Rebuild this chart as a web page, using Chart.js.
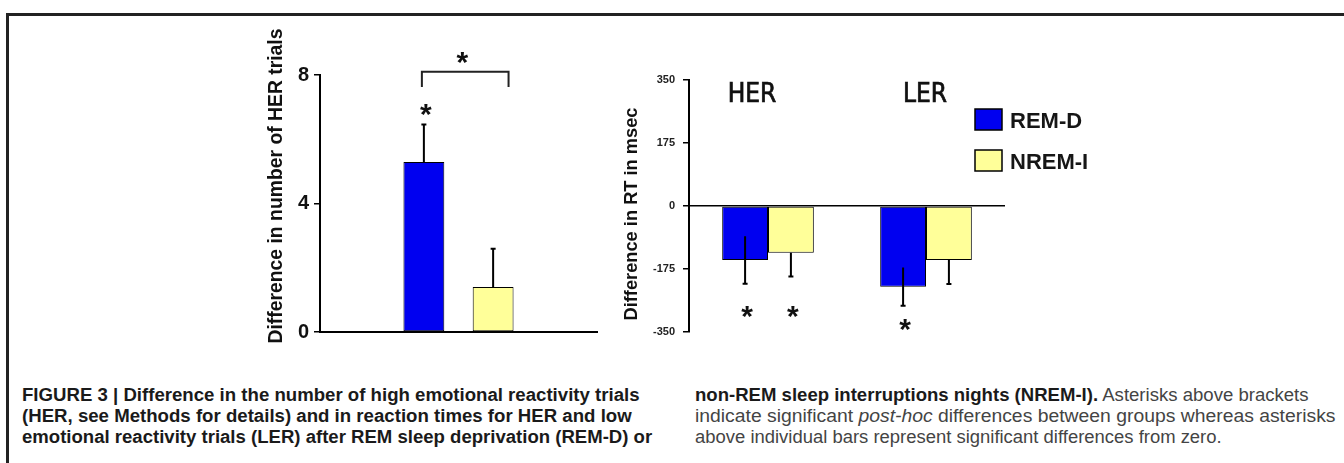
<!DOCTYPE html>
<html>
<head>
<meta charset="utf-8">
<script src="https://cdn.jsdelivr.net/npm/chart.js@4.4.1/dist/chart.umd.min.js"></script>
<style>
  body { margin: 0; width: 1344px; height: 463px; background: #fff; overflow: hidden; position: relative;
         font-family: "Liberation Sans", Arial, sans-serif; }
  #frame { position: absolute; left: 6px; top: 13px; right: 0; bottom: 0;
           border-left: 3px solid #222; border-top: 3px solid #222; }
  #her-box { position: absolute; left: 240px; top: 20px; width: 380px; height: 340px; }
  #rt-box { position: absolute; left: 560px; top: 30px; width: 560px; height: 320px; }
  .caption { position: absolute; top: 385px; line-height: 21px; font-size: 17.5px; white-space: nowrap; }
  .caption span.line { display: inline-block; transform-origin: 0 0; }
  .caption b { color: #1a1a1a; }
  #cap-left { left: 22px; font-weight: bold; color: #1a1a1a; }
  #cap-right { left: 695px; color: #444; }
</style>
</head>
<body>
<div id="frame"></div>
<div id="her-box"><canvas id="her-chart" width="380" height="340"></canvas></div>
<div id="rt-box"><canvas id="rt-chart" width="560" height="320"></canvas></div>

<div class="caption" id="cap-left">
  <div><span class="line" data-w="618">FIGURE 3 | Difference in the number of high emotional reactivity trials</span></div>
  <div><span class="line" data-w="610">(HER, see Methods for details) and in reaction times for HER and low</span></div>
  <div><span class="line" data-w="630">emotional reactivity trials (LER) after REM sleep deprivation (REM-D) or</span></div>
</div>
<div class="caption" id="cap-right">
  <div><span class="line" data-w="614"><b>non-REM sleep interruptions nights (NREM-I).</b> Asterisks above brackets</span></div>
  <div><span class="line" data-w="640">indicate significant <i>post-hoc</i> differences between groups whereas asterisks</span></div>
  <div><span class="line" data-w="527">above individual bars represent significant differences from zero.</span></div>
</div>

<script>
// left panel: difference in number of HER trials
const herGroups = ['REM-D', 'NREM-I'];
const herDiff = [5.29, 1.40];
const herErr = [1.17, 1.19];
const herStarAt = [6.92, null];
const herTicks = [0, 4, 8];

// right panel: difference in RT (msec)
const rtConditions = ['HER', 'LER'];
const rtRemD = [-150, -224];
const rtRemDErr = [66, 53];
const rtNremI = [-130, -150];
const rtNremIErr = [66, 67];
const rtRemDStarAt = [-295, -330];
const rtNremIStarAt = [-295, null];
const rtTicks = [-350, -175, 0, 175, 350];

const blue = '#0000f0';
const yellow = '#ffff99';

Chart.defaults.font.family = '"Liberation Sans", Arial, sans-serif';
Chart.defaults.color = '#111';

// draw text centred on its glyph box
function centredText(ctx, text, x, yc, maxW, heavy) {
    const m = ctx.measureText(text);
    const y = yc + (m.actualBoundingBoxAscent - m.actualBoundingBoxDescent) / 2;
    if (maxW) ctx.fillText(text, x, y, maxW); else ctx.fillText(text, x, y);
    if (heavy) {
        ctx.lineWidth = heavy;
        ctx.strokeStyle = ctx.fillStyle;
        ctx.strokeText(text, x, y);
    }
}

// error bars and significance stars, read from the datasets
const errorBars = {
    id: 'errorBars',
    afterDatasetsDraw(chart, args, opts) {
        const ctx = chart.ctx;
        const yScale = chart.scales.y;
        ctx.save();
        ctx.strokeStyle = '#000';
        ctx.fillStyle = '#111';
        ctx.lineWidth = 2;
        chart.data.datasets.forEach(function(ds, i) {
            const meta = chart.getDatasetMeta(i);
            meta.data.forEach(function(bar, j) {
                const v = ds.data[j];
                const e = ds.errors ? ds.errors[j] : null;
                if (v == null || e == null) return;
                const dir = v < 0 ? -1 : 1;
                const from = yScale.getPixelForValue(ds.twoSided ? v - dir * e : v);
                const to = yScale.getPixelForValue(v + dir * e);
                ctx.beginPath();
                ctx.moveTo(bar.x, from);
                ctx.lineTo(bar.x, to);
                ctx.moveTo(bar.x - 2.5, to);
                ctx.lineTo(bar.x + 2.5, to);
                ctx.stroke();
                const s = ds.stars ? ds.stars[j] : null;
                if (s != null) {
                    ctx.font = 'bold 30px "Liberation Sans", Arial';
                    ctx.textAlign = 'center';
                    centredText(ctx, '*', bar.x + 2, yScale.getPixelForValue(s));
                }
            });
        });
        ctx.restore();
    }
};

// rotated y axis title
const sideTitle = {
    id: 'sideTitle',
    afterDraw(chart, args, o) {
        const ctx = chart.ctx;
        ctx.save();
        ctx.translate(o.x, o.y);
        ctx.rotate(-Math.PI / 2);
        ctx.font = o.font;
        ctx.fillStyle = '#111';
        ctx.textAlign = 'center';
        ctx.textBaseline = 'middle';
        ctx.fillText(o.text, 0, 0, o.width);
        ctx.restore();
    }
};

// bracket between the two bars of the left panel
const bracket = {
    id: 'bracket',
    afterDraw(chart, args, o) {
        const ctx = chart.ctx;
        const yScale = chart.scales.y;
        const bars = chart.getDatasetMeta(0).data;
        const a = bars[o.from], b = bars[o.to];
        const x1 = a.x - 2, x2 = b.x + b.width / 2 - 5;
        const yTop = yScale.getPixelForValue(o.top), yLeg = yScale.getPixelForValue(o.leg);
        ctx.save();
        ctx.strokeStyle = '#222';
        ctx.lineWidth = 2;
        ctx.beginPath();
        ctx.moveTo(x1, yLeg);
        ctx.lineTo(x1, yTop);
        ctx.lineTo(x2, yTop);
        ctx.lineTo(x2, yLeg);
        ctx.stroke();
        ctx.font = 'bold 30px "Liberation Sans", Arial';
        ctx.fillStyle = '#111';
        ctx.textAlign = 'center';
        centredText(ctx, '*', (x1 + x2) / 2 - 3, yScale.getPixelForValue(o.star));
        ctx.restore();
    }
};

// HER / LER group names and the box legend of the right panel
const groupLegend = {
    id: 'groupLegend',
    afterDraw(chart, args, o) {
        const ctx = chart.ctx;
        const area = chart.chartArea;
        const xScale = chart.scales.x;
        ctx.save();
        ctx.fillStyle = '#111';
        ctx.textAlign = 'center';
        ctx.font = '26px "DejaVu Sans Condensed", "DejaVu Sans", sans-serif';
        chart.data.labels.forEach(function(lab, i) {
            centredText(ctx, lab, xScale.getPixelForValue(i) + o.shift[i], area.top + 12, null, 0.7);
        });
        ctx.textAlign = 'left';
        ctx.font = 'bold 22px "Liberation Sans", Arial';
        chart.data.datasets.forEach(function(ds, i) {
            const x = area.right - 30, y = area.top + 29 + i * 41;
            ctx.fillStyle = ds.backgroundColor;
            ctx.fillRect(x, y, 27, 21);
            ctx.strokeStyle = '#000';
            ctx.lineWidth = 1.5;
            ctx.strokeRect(x, y, 27, 21);
            ctx.fillStyle = '#161616';
            centredText(ctx, ds.label, x + 35, y + 11);
        });
        ctx.restore();
    }
};

// left chart: 4 slots so the two bars sit in the middle of the axis
const herChart = new Chart(document.getElementById('her-chart'), {
    type: 'bar',
    data: {
        labels: [''].concat(herGroups, ['']),
        datasets: [{
            label: 'HER trials',
            data: [null].concat(herDiff, [null]),
            errors: [null].concat(herErr, [null]),
            stars: [null].concat(herStarAt, [null]),
            twoSided: false,
            backgroundColor: [blue, blue, yellow, yellow],
            borderColor: '#000',
            borderWidth: 1,
            borderSkipped: false,
            barPercentage: 1,
            categoryPercentage: 0.59
        }]
    },
    options: {
        responsive: false,
        animation: false,
        devicePixelRatio: 1,
        layout: { padding: { top: 55, right: 23, bottom: 0, left: 0 } },
        scales: {
            x: {
                ticks: { display: false },
                grid: { display: false },
                border: { display: true, color: '#000', width: 2 },
                afterFit: function(scale) { scale.height = 28; }
            },
            y: {
                min: 0, max: 8,
                afterBuildTicks: function(scale) { scale.ticks = herTicks.map(v => ({ value: v })); },
                ticks: { font: { size: 20, weight: 'bold' }, color: '#111', padding: 5 },
                grid: { drawOnChartArea: false, tickLength: 6, color: '#000', lineWidth: 1.5 },
                border: { color: '#000', width: 2 },
                afterFit: function(scale) { scale.width = 80; }
            }
        },
        plugins: {
            legend: { display: false },
            tooltip: { enabled: false },
            sideTitle: { text: 'Difference in number of HER trials', x: 37, y: 166, width: 315,
                         font: 'bold 19.5px "Liberation Sans", Arial' },
            bracket: { from: 1, to: 2, top: 8.1, leg: 7.63, star: 8.53 }
        }
    },
    plugins: [errorBars, sideTitle, bracket]
});

// right chart: RT differences by trial type
const rtChart = new Chart(document.getElementById('rt-chart'), {
    type: 'bar',
    data: {
        labels: rtConditions,
        datasets: [{
            label: 'REM-D',
            data: rtRemD,
            errors: rtRemDErr,
            stars: rtRemDStarAt,
            twoSided: true,
            backgroundColor: blue,
            borderColor: '#000',
            borderWidth: 1,
            borderSkipped: false,
            barPercentage: 1,
            categoryPercentage: 0.58
        }, {
            label: 'NREM-I',
            data: rtNremI,
            errors: rtNremIErr,
            stars: rtNremIStarAt,
            twoSided: false,
            backgroundColor: yellow,
            borderColor: '#000',
            borderWidth: 1,
            borderSkipped: false,
            barPercentage: 1,
            categoryPercentage: 0.58
        }]
    },
    options: {
        responsive: false,
        animation: false,
        devicePixelRatio: 1,
        layout: { padding: { top: 50, right: 115, bottom: 18, left: 0 } },
        scales: {
            x: { display: false },
            y: {
                min: -350, max: 350,
                afterBuildTicks: function(scale) { scale.ticks = rtTicks.map(v => ({ value: v })); },
                ticks: { font: { size: 11, weight: 'bold' }, color: '#222', padding: 8 },
                grid: {
                    color: c => (c.tick && c.tick.value === 0) ? '#000' : 'rgba(0,0,0,0)',
                    tickColor: '#000', tickLength: 6, lineWidth: 1.5
                },
                border: { color: '#000', width: 2 },
                afterFit: function(scale) { scale.width = 129; }
            }
        },
        plugins: {
            legend: { display: false },
            tooltip: { enabled: false },
            sideTitle: { text: 'Difference in RT in msec', x: 72, y: 184, width: 213,
                         font: 'bold 18.3px "Liberation Sans", Arial' },
            groupLegend: { shift: [-16, -1] }
        }
    },
    plugins: [errorBars, sideTitle, groupLegend]
});

// squeeze caption lines to the column widths of the figure
function fitCaption() {
    document.querySelectorAll('.caption span.line').forEach(function(s) {
        s.style.transform = 'none';
        const k = parseFloat(s.dataset.w) / s.offsetWidth;
        s.style.transform = 'scaleX(' + k + ')';
    });
}
fitCaption();
if (document.fonts) document.fonts.ready.then(fitCaption);
</script>
</body>
</html>
